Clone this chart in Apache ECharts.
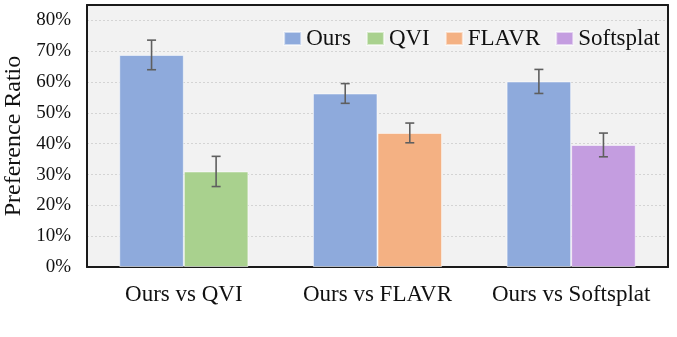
<!DOCTYPE html>
<html>
<head>
<meta charset="utf-8">
<script src="https://cdn.jsdelivr.net/npm/echarts@6/dist/echarts.min.js"></script>
<style>
html,body{margin:0;padding:0;background:#fff;}
#chart{width:677px;height:337px;}
</style>
</head>
<body>
<div id="chart"></div>
<script>
var categories = ['Ours vs QVI', 'Ours vs FLAVR', 'Ours vs Softsplat'];
var seriesNames = ['Ours', 'QVI', 'FLAVR', 'Softsplat'];
var ours = [68.8, 56.3, 60.2];
var oursErr = [4.8, 3.2, 3.9];
var qvi = [31.0, '-', '-'];
var flavr = ['-', 43.5, '-'];
var softsplat = ['-', '-', 39.6];
var otherValues = [31.0, 43.5, 39.6];
var otherErr = [4.9, 3.2, 3.85];
var yTicks = [0, 10, 20, 30, 40, 50, 60, 70, 80];

var FONT = "'Liberation Serif','Times New Roman',serif";
var colors = ['#8eaadc', '#a9d18e', '#f4b183', '#c49de0'];
var frame = {show: true, onZero: false, lineStyle: {color: '#1a1a1a', width: 2}};

function errItem(side) {
  return function (params, api) {
    var idx = api.value(0);
    var val = api.value(1);
    var err = api.value(2);
    var bw = api.size([1, 0])[0];
    var c = api.coord([idx, val]);
    var x = c[0] + side * bw / 6;
    var yTop = api.coord([idx, val + err])[1];
    var yBot = api.coord([idx, val - err])[1];
    var cap = 4.5;
    var st = {stroke: '#5f5f5f', lineWidth: 1.6};
    return {
      type: 'group',
      children: [
        {type: 'line', shape: {x1: x, y1: yTop, x2: x, y2: yBot}, style: st},
        {type: 'line', shape: {x1: x - cap, y1: yTop, x2: x + cap, y2: yTop}, style: st},
        {type: 'line', shape: {x1: x - cap, y1: yBot, x2: x + cap, y2: yBot}, style: st}
      ]
    };
  };
}

var barBase = {
  type: 'bar',
  barGap: '0%',
  barCategoryGap: '33.3%',
  itemStyle: {borderColor: 'rgba(255,255,255,0.55)', borderWidth: 1},
  emphasis: {disabled: true}
};

var chart = echarts.init(document.getElementById('chart'), null, {renderer: 'canvas'});
chart.setOption({
  animation: false,
  textStyle: {fontFamily: FONT},
  grid: {
    left: 87, right: 9, top: 5, bottom: 70,
    containLabel: false, outerBoundsMode: 'none',
    show: true, backgroundColor: '#f2f2f2', borderWidth: 0
  },
  legend: {
    top: 22, right: 12,
    itemWidth: 17, itemHeight: 13, itemGap: 15,
    icon: 'rect',
    textStyle: {fontFamily: FONT, fontSize: 23, color: '#111'},
    data: seriesNames
  },
  xAxis: [{
    type: 'category',
    data: categories,
    axisLine: frame,
    axisTick: {show: false},
    axisLabel: {fontFamily: FONT, fontSize: 23, color: '#111', margin: 16, interval: 0}
  }, {
    type: 'category',
    position: 'top',
    data: categories,
    axisLine: frame,
    axisTick: {show: false},
    axisLabel: {show: false},
    splitLine: {show: false}
  }],
  yAxis: [{
    type: 'value',
    min: 0, max: 85, interval: 10,
    name: 'Preference Ratio',
    nameLocation: 'middle',
    nameGap: 57,
    nameTextStyle: {fontFamily: FONT, fontSize: 24, color: '#111'},
    axisLine: frame,
    axisTick: {show: false},
    axisLabel: {
      fontFamily: FONT, fontSize: 19, color: '#111', margin: 16,
      showMaxLabel: false,
      formatter: function (v) { return yTicks.indexOf(v) >= 0 ? v + '%' : ''; }
    },
    splitLine: {lineStyle: {color: '#d4d4d4', type: [2, 2], width: 1}}
  }, {
    type: 'value',
    position: 'right',
    min: 0, max: 85, interval: 10,
    axisLine: frame,
    axisTick: {show: false},
    axisLabel: {show: false},
    splitLine: {show: false}
  }],
  series: [
    Object.assign({}, barBase, {name: 'Ours', stack: 'a', data: ours, itemStyle: Object.assign({}, barBase.itemStyle, {color: colors[0]})}),
    Object.assign({}, barBase, {name: 'QVI', stack: 'b', data: qvi, itemStyle: Object.assign({}, barBase.itemStyle, {color: colors[1]})}),
    Object.assign({}, barBase, {name: 'FLAVR', stack: 'b', data: flavr, itemStyle: Object.assign({}, barBase.itemStyle, {color: colors[2]})}),
    Object.assign({}, barBase, {name: 'Softsplat', stack: 'b', data: softsplat, itemStyle: Object.assign({}, barBase.itemStyle, {color: colors[3]})}),
    {
      type: 'custom', name: 'errOurs', renderItem: errItem(-1), z: 10,
      data: ours.map(function (v, i) { return [i, v, oursErr[i]]; })
    },
    {
      type: 'custom', name: 'errOther', renderItem: errItem(1), z: 10,
      data: otherValues.map(function (v, i) { return [i, v, otherErr[i]]; })
    }
  ]
});
</script>
</body>
</html>
